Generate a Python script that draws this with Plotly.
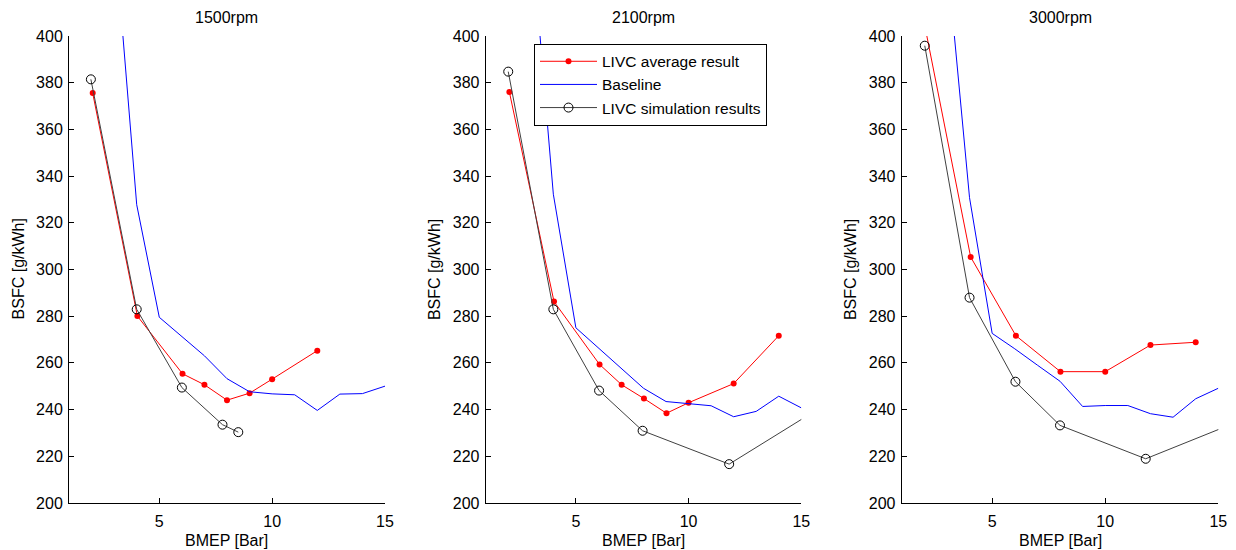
import plotly.graph_objects as go

# ---------------- data ----------------
panel_titles = ["1500rpm", "2100rpm", "3000rpm"]
series_names = ["LIVC average result", "Baseline", "LIVC simulation results"]

x_ticks = [5, 10, 15]
y_ticks = [200, 220, 240, 260, 280, 300, 320, 340, 360, 380, 400]

# Baseline (same BMEP grid for all speeds)
bmep_base = [3, 4, 5, 6, 7, 8, 9, 10, 11, 12, 13, 14, 15]
bsfc_base_1500 = [446, 327.7, 279.5, 271.4, 263.0, 253.2, 247.6, 246.7, 246.3, 239.6, 246.6, 246.8, 250.0]
bsfc_base_2100 = [447, 332.2, 275.0, 266.5, 257.8, 249.1, 243.4, 242.6, 241.6, 236.9, 239.2, 245.7, 240.7]
bsfc_base_3000 = [434, 330.7, 272.6, 266.0, 259.0, 252.1, 241.3, 241.7, 241.7, 238.2, 236.7, 244.6, 249.1]

# LIVC average result
bmep_avg_1500 = [2.05, 4.03, 6.03, 7.0, 8.0, 9.0, 10.0, 12.0]
bsfc_avg_1500 = [375.5, 280.0, 255.3, 250.6, 244.0, 247.0, 253.0, 265.2]
bmep_avg_2100 = [2.05, 4.03, 6.05, 7.03, 8.02, 9.02, 10.0, 12.0, 14.0]
bsfc_avg_2100 = [376.0, 286.2, 259.3, 250.6, 244.7, 238.4, 242.9, 251.1, 271.6]
bmep_avg_3000 = [2.05, 4.05, 6.05, 8.02, 10.0, 12.0, 14.0]
bsfc_avg_3000 = [403.0, 305.3, 271.6, 256.2, 256.2, 267.6, 268.8]

# LIVC simulation results
bmep_sim_1500 = [1.97, 4.0, 6.0, 7.8, 8.5]
bsfc_sim_1500 = [381.4, 282.9, 249.4, 233.5, 230.3]
bmep_sim_2100 = [2.0, 4.0, 6.03, 7.96, 11.8, 16.0]
bsfc_sim_2100 = [384.7, 282.9, 248.1, 230.9, 216.6, 241.7]
bmep_sim_3000 = [2.02, 4.0, 6.03, 8.0, 11.79, 16.0]
bsfc_sim_3000 = [395.8, 287.9, 251.9, 233.2, 218.9, 235.3]

panels = [
    (bmep_avg_1500, bsfc_avg_1500, bsfc_base_1500, bmep_sim_1500, bsfc_sim_1500),
    (bmep_avg_2100, bsfc_avg_2100, bsfc_base_2100, bmep_sim_2100, bsfc_sim_2100),
    (bmep_avg_3000, bsfc_avg_3000, bsfc_base_3000, bmep_sim_3000, bsfc_sim_3000),
]

# ---------------- layout constants ----------------
W, H = 1236, 550
FONT = "Liberation Sans, Arial, sans-serif"
FS = 16
x_px = [(69, 385), (485.7, 801.3), (901.7, 1218.3)]
y_px = (35.9, 502.9)  # top, bottom

fig = go.Figure()

for i, (xa, ya, yb, xs, ys) in enumerate(panels):
    n = "" if i == 0 else str(i + 1)
    xr, yr = "x" + n, "y" + n
    first = i == 0
    fig.add_trace(go.Scatter(
        x=xa, y=ya, name=series_names[0], xaxis=xr, yaxis=yr,
        mode="lines+markers", line=dict(color="#ff0000", width=1),
        marker=dict(symbol="circle", size=6, color="#ff0000"),
        showlegend=first, legendrank=1))
    fig.add_trace(go.Scatter(
        x=bmep_base, y=yb, name=series_names[1], xaxis=xr, yaxis=yr,
        mode="lines", line=dict(color="#0000ff", width=1),
        showlegend=first, legendrank=2))
    fig.add_trace(go.Scatter(
        x=xs, y=ys, name=series_names[2], xaxis=xr, yaxis=yr,
        mode="lines+markers", line=dict(color="#404040", width=1),
        marker=dict(symbol="circle-open", size=9, color="#000000", line=dict(width=1)),
        showlegend=first, legendrank=3))

    axis_common = dict(showline=True, linecolor="black", linewidth=1, mirror=False,
                       ticks="inside", ticklen=5, tickcolor="black", tickwidth=1,
                       showgrid=False, zeroline=False, automargin=False,
                       tickfont=dict(family=FONT, size=FS, color="black"))
    fig.update_layout(**{
        "xaxis" + n: dict(domain=[x_px[i][0] / W, x_px[i][1] / W], range=[1, 15],
                          tickvals=x_ticks, anchor=yr, ticklabelstandoff=4, **axis_common),
        "yaxis" + n: dict(domain=[1 - y_px[1] / H, 1 - y_px[0] / H], range=[200, 400],
                          tickvals=y_ticks, anchor=xr, ticklabelstandoff=2, **axis_common),
    })

    dx, dy = xr + " domain", yr + " domain"
    fig.add_annotation(text=panel_titles[i], xref=dx, yref=dy, x=0.5, y=1, yshift=18,
                       showarrow=False, yanchor="middle",
                       font=dict(family=FONT, size=FS, color="black"))
    fig.add_annotation(text="BMEP [Bar]", xref=dx, yref=dy, x=0.5, y=0, yshift=-38,
                       showarrow=False, yanchor="middle",
                       font=dict(family=FONT, size=FS, color="black"))
    fig.add_annotation(text="BSFC [g/kWh]", xref=dx, yref=dy, x=0, y=0.5, xshift=-51,
                       showarrow=False, xanchor="center", yanchor="middle", textangle=-90,
                       font=dict(family=FONT, size=FS, color="black"))

fig.update_layout(
    width=W, height=H,
    margin=dict(l=0, r=0, t=0, b=0, pad=0, autoexpand=False),
    paper_bgcolor="white", plot_bgcolor="white",
    font=dict(family=FONT, size=FS, color="black"),
    legend=dict(x=534 / W, y=1 - 43.7 / H, xanchor="left", yanchor="top",
                bgcolor="white", bordercolor="black", borderwidth=1,
                itemwidth=57, tracegroupgap=0,
                font=dict(family=FONT, size=15.5, color="black")),
)

fig.write_html("out.html")
